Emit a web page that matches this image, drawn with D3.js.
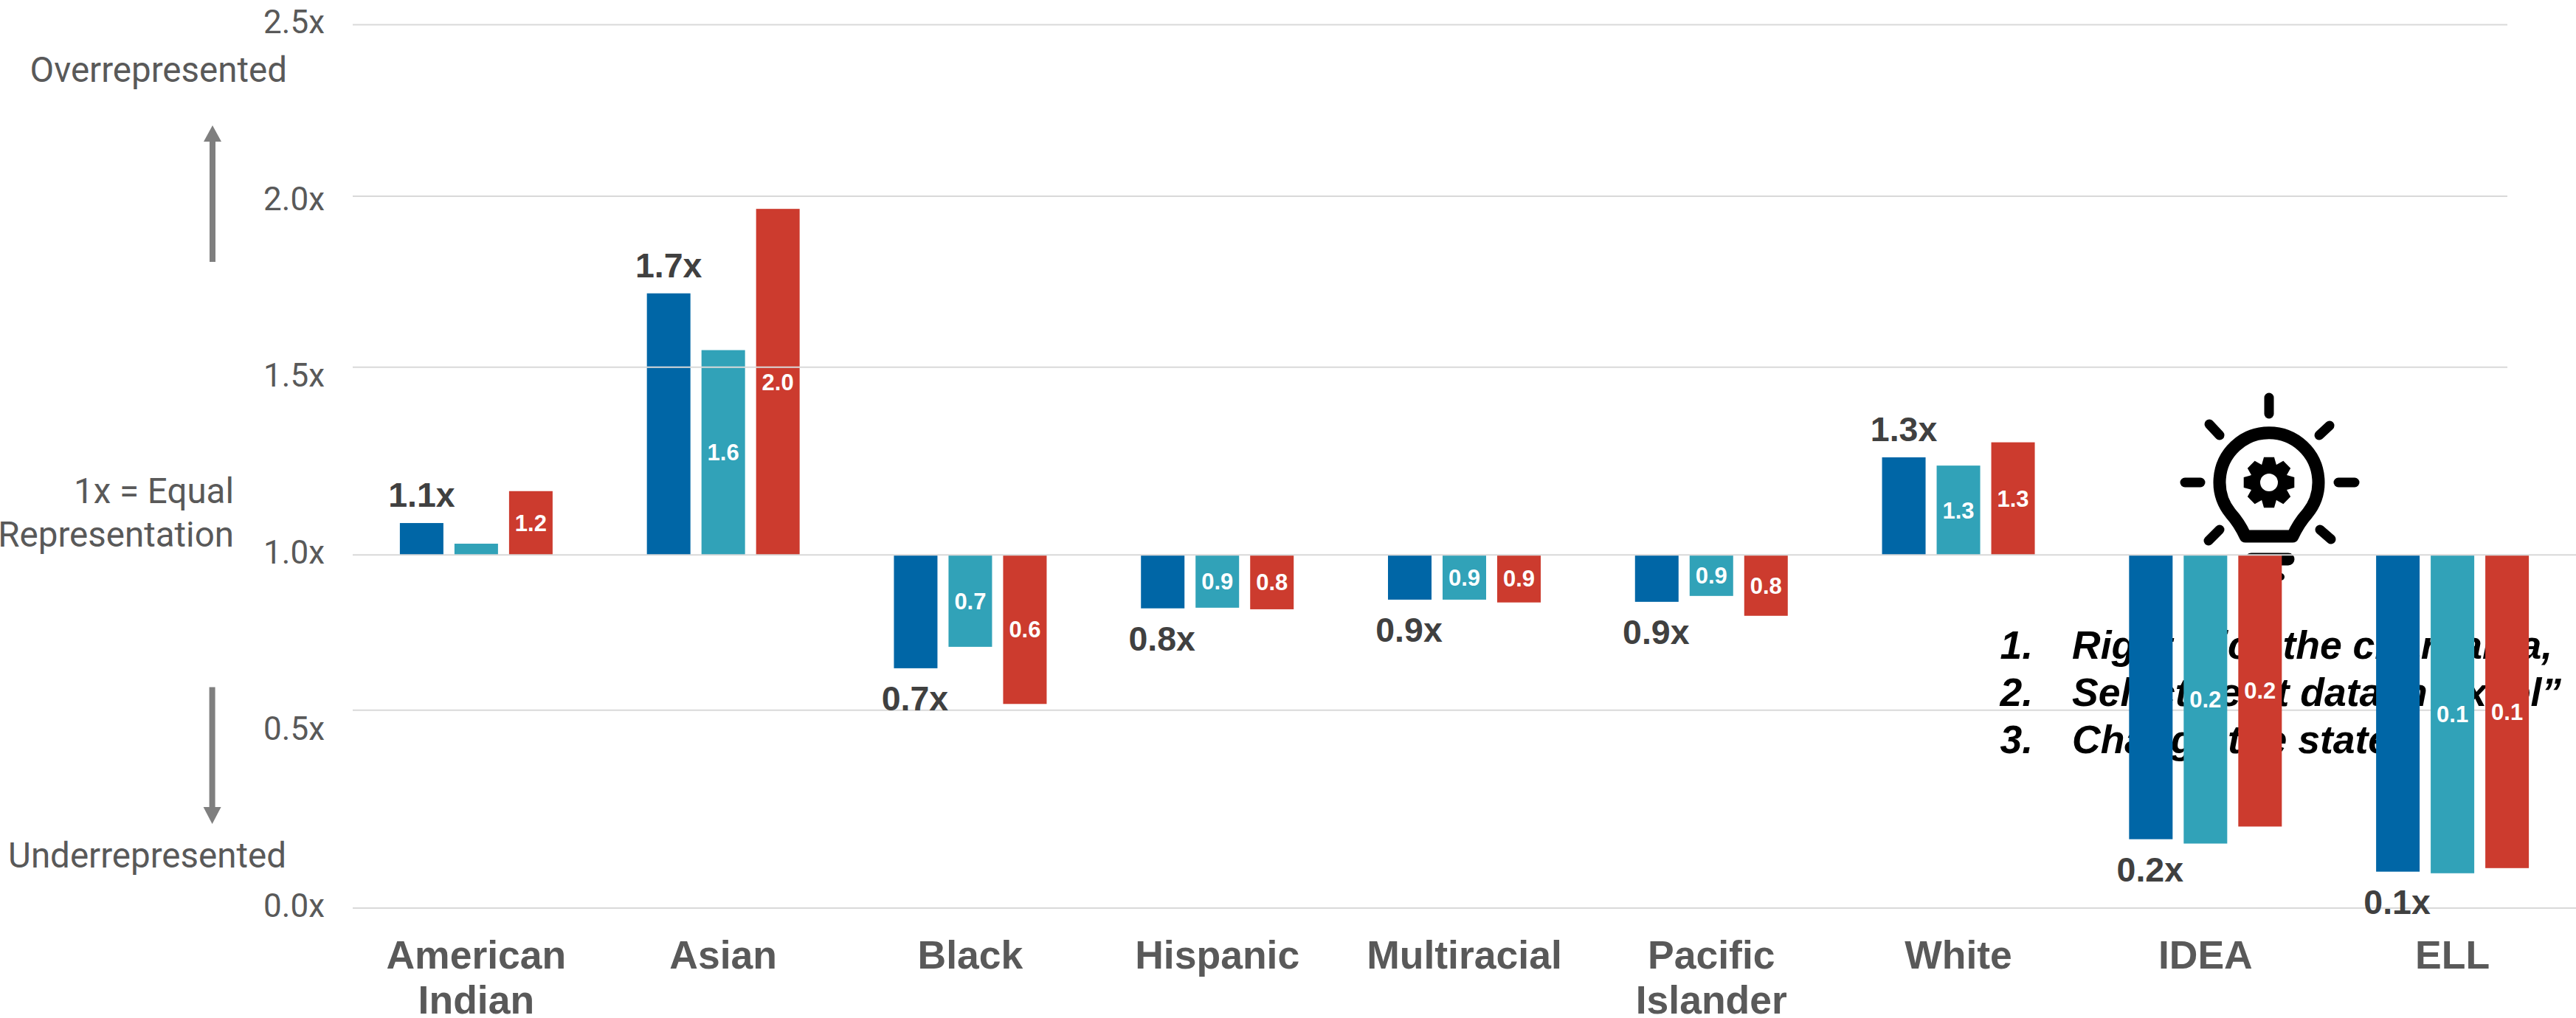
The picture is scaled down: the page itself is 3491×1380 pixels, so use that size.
<!DOCTYPE html>
<html>
<head>
<meta charset="utf-8">
<style>
html,body{margin:0;padding:0;background:#fff;overflow:hidden}
svg{display:block}
.side{font-family:Roboto,sans-serif;font-weight:400;fill:#595959}
.arial{font-family:"Liberation Sans",Arial,sans-serif}
</style>
<script src="https://cdn.jsdelivr.net/npm/d3@7/dist/d3.min.js"></script>
</head>
<body>
<script>
const categories = [["American","Indian"],["Asian"],["Black"],["Hispanic"],["Multiracial"],["Pacific","Islander"],["White"],["IDEA"],["ELL"]];
const seriesNames = ["first","second","third"];
const seriesColors = ["#0066A6","#31A2B8","#CC3B2E"];
const firstValues  = [1.085,1.716,0.635,0.828,0.856,0.849,1.260,0.174,0.092];
const secondValues = [1.030,1.550,0.704,0.830,0.856,0.868,1.238,0.163,0.088];
const thirdValues  = [1.170,1.963,0.520,0.825,0.847,0.804,1.300,0.206,0.101];
const firstLabels  = ["1.1x","1.7x","0.7x","0.8x","0.9x","0.9x","1.3x","0.2x","0.1x"];
const secondLabels = ["","1.6","0.7","0.9","0.9","0.9","1.3","0.2","0.1"];
const thirdLabels  = ["1.2","2.0","0.6","0.8","0.9","0.8","1.3","0.2","0.1"];
const tickValues = [0,0.5,1,1.5,2,2.5];
const instructions = [["1.","Right click the chart area,"],["2.","Select \u201Cedit data in Excel\u201D"],["3.","Change the state"]];

const W = 3491, H = 1380;
const svg = d3.select("body").append("svg").attr("width",W).attr("height",H);

// Bars and gridlines sit on an uneven scale in the source; its tick labels are evenly spaced.
const y = d3.scaleLinear().domain(tickValues).range([1231,962.7,752.3,497.8,266,33.6]);
const yLabel = d3.scaleLinear().domain([0,2.5]).range([1242,44.6]);
const x0 = d3.scaleBand().domain(d3.range(categories.length)).range([478,3491]);
const x1 = d3.scaleBand().domain(seriesNames).range([-103.5,103.5]).paddingInner(15/74);
const GRID = "#D9D9D9";
const gridLine = (sel,v,x2) => sel.append("line").attr("x1",478).attr("x2",x2)
  .attr("y1",y(v)).attr("y2",y(v)).attr("stroke",GRID).attr("stroke-width",2);

// gridlines behind everything
[[0,3491],[0.5,3398],[2,3398],[2.5,3398]].forEach(([v,e]) => gridLine(svg,v,e));

// instruction text, later covered by bars
const note = svg.append("g").attr("class","arial").attr("font-size",53.5).attr("font-weight",700)
  .attr("font-style","italic").attr("fill","#000");
instructions.forEach((r,i) => {
  const by = 893 + i*64;
  note.append("text").attr("x",2755).attr("y",by).attr("text-anchor","end").text(r[0]);
  note.append("text").attr("x",2808).attr("y",by).text(r[1]);
});

// lightbulb icon
const icon = svg.append("g").attr("transform","translate(3075,654)");
const ink = icon.append("g").attr("fill","none").attr("stroke","#000").attr("stroke-linecap","round").attr("stroke-linejoin","round");
[[0,-115,0,-93],[-114,0,-93,0],[94,0,116,0],[-81,-79,-67,-64],[82,-77,68,-64],[-67,64,-82,79],[69,64,84,77]]
  .forEach(a => ink.append("line").attr("x1",a[0]).attr("y1",a[1]).attr("x2",a[2]).attr("y2",a[3]).attr("stroke-width",13));
ink.append("path").attr("stroke-width",17)
  .attr("d","M-32,73 L32,73 C37,62 43,52 52,42 A67,67 0 1 0 -52,42 C-43,52 -37,62 -32,73 Z");
ink.append("line").attr("x1",-24).attr("x2",26).attr("y1",104).attr("y2",104).attr("stroke-width",17);
ink.append("line").attr("x1",-10).attr("x2",16).attr("y1",128).attr("y2",128).attr("stroke-width",10);
const gearPts = [];
d3.range(8).forEach(i => {
  const a = i*Math.PI/4 - Math.PI/2;
  [[-0.39,26],[-0.2,35],[0.2,35],[0.39,26]].forEach(([o,r]) => gearPts.push([r*Math.cos(a+o), r*Math.sin(a+o)]));
});
icon.append("polygon").attr("points",gearPts.map(p=>p.join(",")).join(" ")).attr("fill","#000");
icon.append("circle").attr("r",12).attr("fill","#fff");

// bars
const valueRows = [firstValues,secondValues,thirdValues];
const labelRows = [null,secondLabels,thirdLabels];
seriesNames.forEach((s,si) => {
  const g = svg.append("g");
  g.selectAll("rect").data(valueRows[si]).join("rect")
    .attr("x",(d,i)=>x0(i)+x0.bandwidth()/2+x1(s))
    .attr("width",x1.bandwidth())
    .attr("y",d=>Math.min(y(d),y(1)))
    .attr("height",d=>Math.abs(y(d)-y(1)))
    .attr("fill",seriesColors[si]);
  if (labelRows[si]) {
    g.selectAll("text").data(valueRows[si]).join("text")
      .attr("class","arial")
      .attr("x",(d,i)=>x0(i)+x0.bandwidth()/2+x1(s)+x1.bandwidth()/2)
      .attr("y",d=>(y(d)+y(1))/2+11)
      .attr("text-anchor","middle").attr("font-size",31).attr("font-weight",700).attr("fill","#fff")
      .text((d,i)=>labelRows[si][i]);
  }
});

// gridlines that run over the bars
gridLine(svg,1.5,3398);
gridLine(svg,1,3491);

// labels on the first series
svg.append("g").selectAll("text").data(firstValues).join("text")
  .attr("class","arial")
  .attr("x",(d,i)=>x0(i)+x0.bandwidth()/2+x1("first")+x1.bandwidth()/2 + (d<1 ? -1 : 0))
  .attr("y",d=> d>=1 ? y(d)-22 : y(d)+57)
  .attr("text-anchor","middle").attr("font-size",46.5).attr("font-weight",700).attr("fill","#404040")
  .text((d,i)=>firstLabels[i]);

// value axis labels
const axis = d3.axisLeft(yLabel).tickValues(tickValues).tickSize(0).tickPadding(0).tickFormat(d=>d3.format(".1f")(d)+"x");
const ag = svg.append("g").attr("transform","translate(440,0)").call(axis);
ag.select(".domain").remove();
ag.selectAll("text").attr("font-size",44).attr("dy",0).style("font-family","Roboto,sans-serif").style("font-weight",400).style("fill","#595959");

// category labels
const catG = svg.append("g").attr("class","arial").attr("font-size",53.5).attr("font-weight",700).attr("fill","#595959").attr("text-anchor","middle");
categories.forEach((lines,i) => lines.forEach((t,j) =>
  catG.append("text").attr("x",x0(i)+x0.bandwidth()/2).attr("y",1312.5+j*61).text(t)));

// side annotations
const side = [["Overrepresented",389,110.7],["1x = Equal",317,682],["Representation",317,741],["Underrepresented",388,1176]];
side.forEach(s => svg.append("text").attr("class","side").attr("font-size",47.5).attr("text-anchor","end")
  .attr("x",s[1]).attr("y",s[2]).text(s[0]));

// arrows
const arrowColor = "#7F7F7F";
const arrow = (cx,from,baseY,tip) => {
  svg.append("line").attr("x1",cx).attr("x2",cx).attr("y1",from).attr("y2",baseY).attr("stroke",arrowColor).attr("stroke-width",8);
  svg.append("polygon").attr("points",[[cx-12,baseY],[cx+12,baseY],[cx,tip]].map(p=>p.join(",")).join(" ")).attr("fill",arrowColor);
};
arrow(288,355,192,170);
arrow(287.6,931.6,1094,1117);
</script>
</body>
</html>
